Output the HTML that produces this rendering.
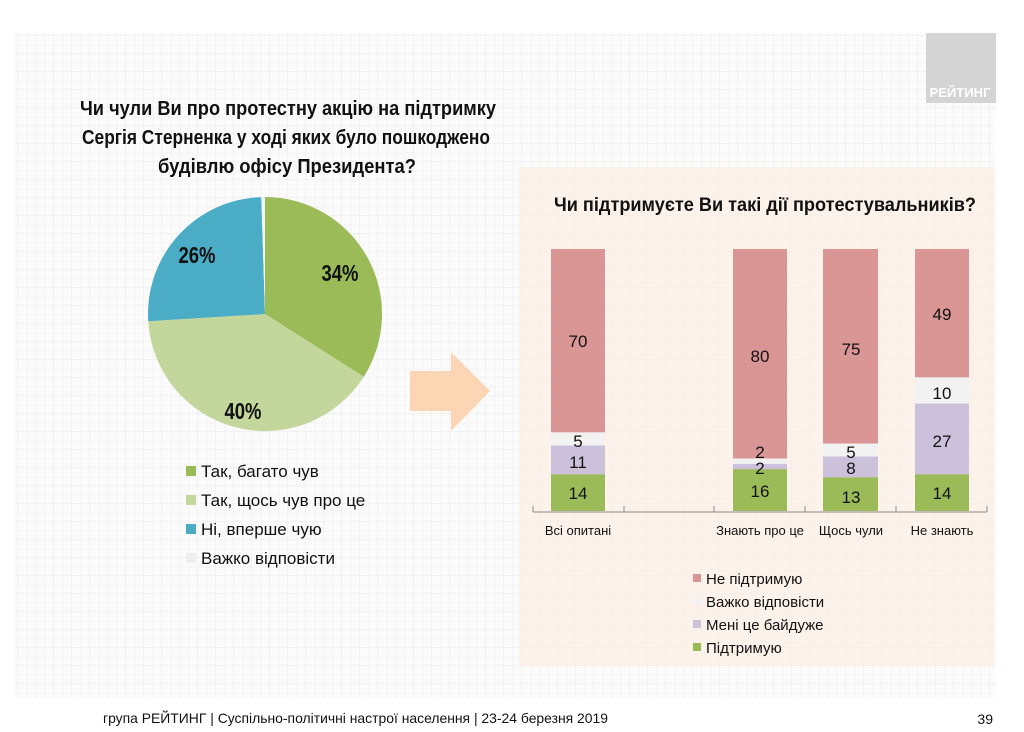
<!DOCTYPE html>
<html><head><meta charset="utf-8"><style>
html,body{margin:0;padding:0;background:#fff;}
svg{display:block;font-family:"Liberation Sans Narrow","Liberation Sans",sans-serif;}
</style></head><body>
<svg width="1024" height="732" viewBox="0 0 1024 732" xmlns="http://www.w3.org/2000/svg">
<defs>
<pattern id="g" width="18" height="18" patternUnits="userSpaceOnUse">
<path d="M18 0V18M0 18H18" stroke="#e8e8e8" stroke-width="1" fill="none"/>
<path d="M9 0V18M0 9H18" stroke="#f3f3f3" stroke-width="1" fill="none"/>
</pattern>
</defs>
<rect x="15" y="33" width="980" height="665" fill="#fbfbfb"/>
<rect x="15" y="33" width="980" height="665" fill="url(#g)"/>
<rect x="926" y="33" width="70" height="70" fill="#d4d4d4"/>
<text x="960" y="97" font-size="13" font-weight="bold" fill="#fff" text-anchor="middle" textLength="61" lengthAdjust="spacingAndGlyphs">РЕЙТИНГ</text>

<g font-size="20" font-weight="bold" fill="#111" text-anchor="middle">
<text x="288" y="115" textLength="416" lengthAdjust="spacingAndGlyphs">Чи чули Ви про протестну акцію на підтримку</text>
<text x="286" y="144" textLength="408" lengthAdjust="spacingAndGlyphs">Сергія Стерненка у ході яких було пошкоджено</text>
<text x="287" y="173" textLength="258" lengthAdjust="spacingAndGlyphs">будівлю офісу Президента?</text>
</g>

<!-- pie -->
<path d="M265 314 L265 197 A117 117 0 0 1 363.8 376.7Z" fill="#9bbb59"/>
<path d="M265 314 L363.8 376.7 A117 117 0 0 1 148.2 321.3Z" fill="#c3d69b"/>
<path d="M265 314 L148.2 321.3 A117 117 0 0 1 261.3 197.1Z" fill="#4bacc6"/>
<path d="M265 314 L261.3 197.1 A117 117 0 0 1 265 197Z" fill="#f2f2f2"/>
<g font-size="23" font-weight="bold" fill="#111" text-anchor="middle">
<text x="340" y="281" textLength="37" lengthAdjust="spacingAndGlyphs">34%</text>
<text x="243" y="419" textLength="37" lengthAdjust="spacingAndGlyphs">40%</text>
<text x="197" y="263" textLength="37" lengthAdjust="spacingAndGlyphs">26%</text>
</g>
<g font-size="17" fill="#111">
<rect x="186" y="466" width="10" height="10" fill="#9bbb59"/><text x="201" y="477">Так, багато чув</text>
<rect x="186" y="495" width="10" height="10" fill="#c3d69b"/><text x="201" y="506">Так, щось чув про це</text>
<rect x="186" y="524" width="10" height="10" fill="#4bacc6"/><text x="201" y="535">Ні, вперше чую</text>
<rect x="186" y="553" width="10" height="10" fill="#eeeeee"/><text x="201" y="564">Важко відповісти</text>
</g>

<!-- arrow -->
<path d="M410 371 H451 V352 L490 391 L451 431 V411 H410Z" fill="#fcd5b4"/>

<!-- panel -->
<rect x="519" y="167" width="476" height="499" fill="#fdf0e6" opacity="0.85"/>
<rect x="519" y="167" width="476" height="499" fill="url(#g)" opacity="0.35"/>
<text x="765" y="211" font-size="19" font-weight="bold" fill="#111" text-anchor="middle" textLength="422" lengthAdjust="spacingAndGlyphs">Чи підтримуєте Ви такі дії протестувальників?</text>

<!-- bars -->
<g>
<rect x="551" y="249" width="54" height="183.4" fill="#d99694"/>
<rect x="551" y="432.4" width="54" height="13.1" fill="#f2f2f2"/>
<rect x="551" y="445.5" width="54" height="28.8" fill="#ccc1da"/>
<rect x="551" y="474.3" width="54" height="36.7" fill="#9bbb59"/>

<rect x="733" y="249" width="54" height="209.6" fill="#d99694"/>
<rect x="733" y="458.6" width="54" height="5.3" fill="#f2f2f2"/>
<rect x="733" y="463.9" width="54" height="5.2" fill="#ccc1da"/>
<rect x="733" y="469.1" width="54" height="41.9" fill="#9bbb59"/>

<rect x="823" y="249" width="55" height="194.5" fill="#d99694"/>
<rect x="823" y="443.5" width="55" height="13" fill="#f2f2f2"/>
<rect x="823" y="456.5" width="55" height="20.8" fill="#ccc1da"/>
<rect x="823" y="477.3" width="55" height="33.7" fill="#9bbb59"/>

<rect x="915" y="249" width="54" height="128.4" fill="#d99694"/>
<rect x="915" y="377.4" width="54" height="26.2" fill="#f2f2f2"/>
<rect x="915" y="403.6" width="54" height="70.7" fill="#ccc1da"/>
<rect x="915" y="474.3" width="54" height="36.7" fill="#9bbb59"/>
</g>
<path d="M533 512 H987 M533 506V512 M624 506V512 M714 506V512 M805 506V512 M896 506V512 M987 506V512" stroke="#888" stroke-width="1" fill="none"/>
<g font-size="17" fill="#111" text-anchor="middle">
<text x="578" y="347">70</text><text x="578" y="447">5</text><text x="578" y="468">11</text><text x="578" y="499">14</text>
<text x="760" y="362">80</text><text x="760" y="458">2</text><text x="760" y="474">2</text><text x="760" y="497">16</text>
<text x="851" y="355">75</text><text x="851" y="458">5</text><text x="851" y="474">8</text><text x="851" y="503">13</text>
<text x="942" y="320">49</text><text x="942" y="399">10</text><text x="942" y="447">27</text><text x="942" y="499">14</text>
</g>
<g font-size="13" fill="#111" text-anchor="middle">
<text x="578" y="535">Всі опитані</text>
<text x="760" y="535">Знають про це</text>
<text x="851" y="535">Щось чули</text>
<text x="942" y="535">Не знають</text>
</g>
<g font-size="15" fill="#111">
<rect x="693" y="574" width="8" height="8" fill="#d99694"/><text x="706" y="584">Не підтримую</text>
<rect x="693" y="597" width="8" height="8" fill="#f2f2f2"/><text x="706" y="607">Важко відповісти</text>
<rect x="693" y="620" width="8" height="8" fill="#ccc1da"/><text x="706" y="630">Мені це байдуже</text>
<rect x="693" y="643" width="8" height="8" fill="#9bbb59"/><text x="706" y="653">Підтримую</text>
</g>

<text x="103" y="723" font-size="14" fill="#111" textLength="505" lengthAdjust="spacingAndGlyphs">група РЕЙТИНГ | Суспільно-політичні настрої населення  | 23-24 березня 2019</text>
<text x="993" y="724" font-size="14" fill="#111" text-anchor="end">39</text>
</svg>
</body></html>
